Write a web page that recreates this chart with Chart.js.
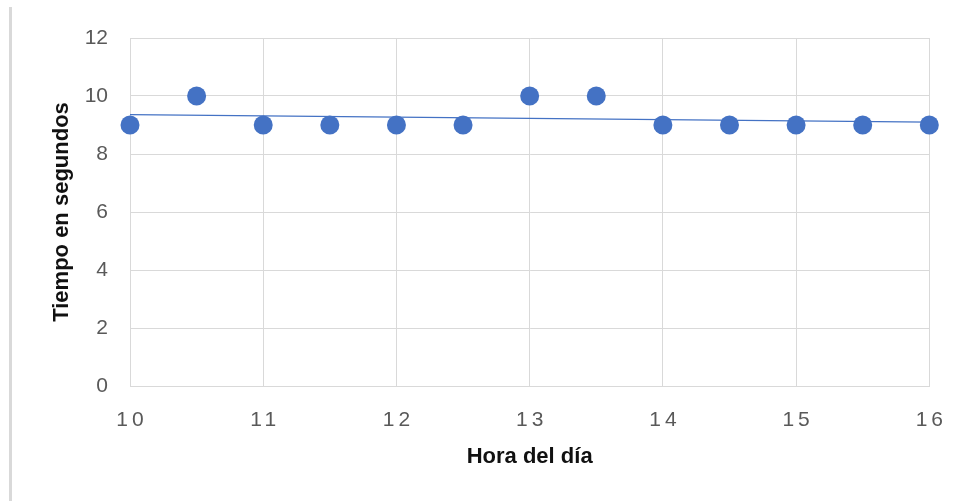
<!DOCTYPE html>
<html>
<head>
<meta charset="utf-8">
<script src="https://cdn.jsdelivr.net/npm/chart.js@4/dist/chart.umd.min.js"></script>
<style>
  html, body { margin: 0; padding: 0; background: #ffffff; }
  #wrap { position: relative; width: 963px; height: 501px; }
  #edge { position: absolute; left: 9px; top: 7px; width: 3px; height: 494px; background: #d9d9d9; }
  canvas { position: absolute; left: 0; top: 0; }
</style>
</head>
<body>
<div id="wrap">
  <div id="edge"></div>
  <canvas id="c" width="963" height="501"></canvas>
</div>
<script>
// Hour of day (x) and time in seconds (y)
const hours = [10, 10.5, 11, 11.5, 12, 12.5, 13, 13.5, 14, 14.5, 15, 15.5, 16];
const seconds = [9, 10, 9, 9, 9, 9, 10, 10, 9, 9, 9, 9, 9];
// Linear trendline end points
const trendX = [10, 16];
const trendY = [9.36, 9.10];
const xTicks = [10, 11, 12, 13, 14, 15, 16];
const yTicks = [0, 2, 4, 6, 8, 10, 12];
const xTitle = 'Hora del día';
const yTitle = 'Tiempo en segundos';

const BLUE = '#4472C4';
const GRID = '#d9d9d9';
const TICK = '#595959';

const letterSpacingPlugin = {
  id: 'xLetterSpacing',
  beforeDraw(chart) {
    const s = chart.scales.x;
    if (s && !s._lsPatched) {
      const orig = s.drawLabels.bind(s);
      s.drawLabels = function (ca) {
        const ctx = this.ctx;
        ctx.save();
        ctx.letterSpacing = '4px';
        ctx.translate(2, 0);
        orig(ca);
        ctx.restore();
      };
      s._lsPatched = true;
    }
  }
};

new Chart(document.getElementById('c'), {
  type: 'scatter',
  data: {
    datasets: [
      {
        label: 'Tiempo',
        data: hours.map((h, i) => ({ x: h, y: seconds[i] })),
        backgroundColor: BLUE,
        borderColor: BLUE,
        pointRadius: 9.5,
        pointHoverRadius: 9.5,
        borderWidth: 0,
        clip: false
      },
      {
        type: 'line',
        label: 'Tendencia',
        data: trendX.map((x, i) => ({ x: x, y: trendY[i] })),
        borderColor: BLUE,
        borderWidth: 1.3,
        pointRadius: 0,
        fill: false,
        clip: false
      }
    ]
  },
  options: {
    responsive: false,
    animation: false,
    events: [],
    layout: { padding: { top: 38, right: 32, bottom: 0, left: 0 } },
    plugins: { legend: { display: false }, tooltip: { enabled: false } },
    scales: {
      x: {
        type: 'linear',
        min: 10, max: 16,
        afterBuildTicks(scale) { scale.ticks = xTicks.map(v => ({ value: v })); },
        afterFit(scale) { scale.height = 115; },
        grid: { color: GRID, lineWidth: 1, drawTicks: false },
        border: { color: GRID, width: 1 },
        ticks: {
          color: TICK,
          padding: 22,
          maxRotation: 0,
          autoSkip: false,
          font: { family: '"Liberation Sans", Arial, sans-serif', size: 21 }
        },
        title: {
          display: true,
          text: xTitle,
          color: '#111111',
          padding: { top: 0, bottom: 31 },
          font: { family: '"Liberation Sans", Arial, sans-serif', size: 22, weight: 'bold' }
        }
      },
      y: {
        type: 'linear',
        min: 0, max: 12,
        afterBuildTicks(scale) { scale.ticks = yTicks.map(v => ({ value: v })); },
        afterFit(scale) { scale.width = 130; },
        grid: { color: GRID, lineWidth: 1, drawTicks: false },
        border: { color: GRID, width: 1 },
        ticks: {
          color: TICK,
          padding: 22,
          font: { family: '"Liberation Sans", Arial, sans-serif', size: 21 }
        },
        title: {
          display: true,
          text: yTitle,
          color: '#111111',
          padding: { top: 49, bottom: 0 },
          font: { family: '"Liberation Sans", Arial, sans-serif', size: 22, weight: 'bold' }
        }
      }
    }
  },
  plugins: [letterSpacingPlugin]
});
</script>
</body>
</html>
